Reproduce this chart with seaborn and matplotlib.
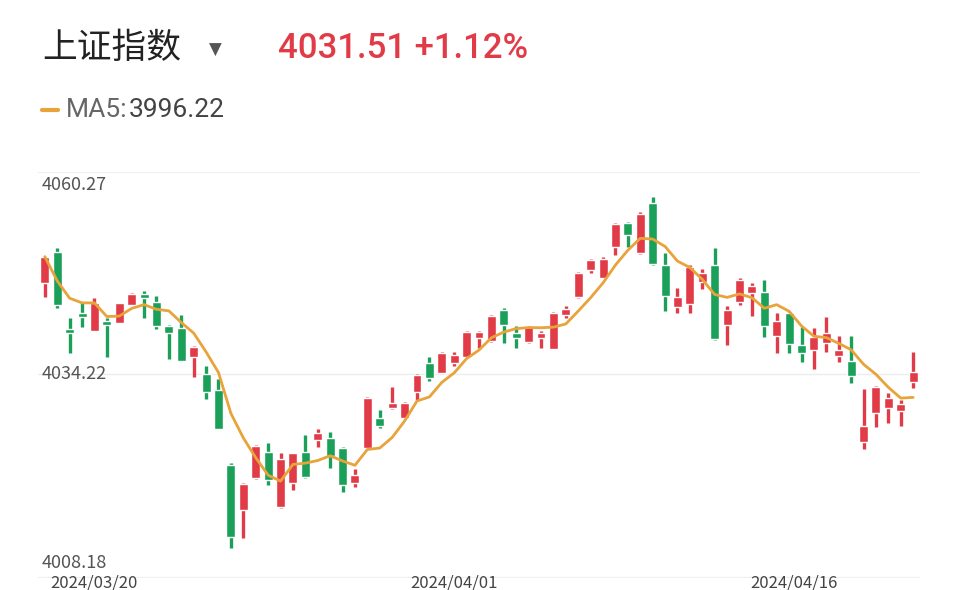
import numpy as np
import pandas as pd
import matplotlib
matplotlib.use("Agg")
import matplotlib.pyplot as plt
import matplotlib.transforms as mtransforms
import seaborn as sns

sns.set_theme(style="white")
plt.rcParams['font.family'] = ['Noto Sans CJK SC', 'DejaVu Sans']

opens = [4046.8,4051.0,4040.3,4042.6,4040.2,4041.5,4041.2,4043.7,4045.2,4044.1,
         4040.8,4040.6,4036.6,4034.2,4032.0,4021.7,4015.5,4019.9,4023.5,4015.9,
         4019.2,4023.5,4025.1,4025.4,4024.0,4019.2,4024.0,4028.2,4029.5,4028.2,
         4031.7,4035.7,4034.4,4035.7,4036.6,4039.2,4038.8,4043.0,4039.9,4038.6,
         4039.2,4037.7,4042.4,4044.8,4048.6,4047.5,4051.7,4055.0,4050.9,4057.8,
         4049.2,4043.5,4043.9,4046.9,4049.2,4041.0,4044.1,4045.4,4045.5,4039.5,
         4042.6,4038.2,4037.5,4038.5,4036.7,4036.0,4024.9,4028.9,4029.5,4029.1,4033.1]
highs = [4050.4,4051.6,4041.9,4044.1,4044.7,4041.9,4044.0,4045.4,4045.7,4045.0,
         4041.0,4042.4,4038.1,4035.3,4033.5,4021.9,4019.2,4024.5,4024.7,4023.3,
         4023.4,4025.8,4026.6,4026.2,4024.2,4021.1,4031.0,4029.3,4032.4,4030.3,
         4034.2,4036.6,4037.2,4037.3,4040.1,4040.2,4042.3,4043.3,4040.8,4040.9,
         4040.2,4042.8,4043.6,4048.3,4050.1,4050.3,4055.1,4055.2,4056.5,4058.6,
         4050.9,4046.1,4049.2,4048.7,4051.6,4043.6,4047.4,4046.8,4047.2,4042.6,
         4042.8,4040.7,4040.6,4042.1,4039.5,4039.5,4032.2,4032.6,4031.6,4030.6,4037.3]
lows = [4044.8,4043.3,4037.1,4040.7,4040.2,4036.6,4041.2,4043.7,4041.9,4040.4,
        4036.3,4036.0,4033.8,4030.8,4026.6,4010.2,4011.6,4019.8,4018.9,4015.8,
        4018.2,4019.9,4024.2,4021.3,4018.0,4018.7,4023.9,4026.8,4029.4,4028.0,
        4030.6,4033.3,4034.3,4035.3,4036.5,4037.8,4038.7,4038.5,4037.8,4038.5,
        4037.8,4037.6,4041.9,4044.7,4048.1,4047.4,4050.6,4051.7,4050.8,4049.3,
        4042.9,4042.6,4042.6,4045.9,4038.9,4038.2,4043.7,4042.2,4039.3,4037.1,
        4037.1,4035.9,4034.9,4037.3,4035.9,4033.0,4023.9,4026.9,4027.5,4027.1,4032.3]
closes = [4050.4,4043.7,4039.9,4042.1,4044.0,4041.0,4044.0,4045.2,4044.7,4040.8,
          4039.9,4036.0,4037.9,4031.7,4026.6,4011.8,4019.1,4024.3,4019.6,4022.5,
          4023.3,4020.0,4026.1,4022.9,4018.9,4020.3,4030.9,4027.1,4030.2,4030.2,
          4034.1,4033.7,4037.1,4036.8,4040.0,4040.0,4042.2,4041.0,4039.2,4040.7,
          4039.9,4042.6,4043.2,4048.1,4049.9,4050.1,4054.9,4053.4,4056.3,4049.4,
          4045.0,4044.8,4049.0,4048.1,4039.0,4043.0,4047.2,4046.4,4040.8,4041.5,
          4038.4,4037.1,4039.3,4039.9,4037.5,4034.0,4027.1,4032.4,4030.9,4030.1,4034.5]

y_ticks = [4060.27, 4034.22, 4008.18]
date_labels = ["2024/03/20", "2024/04/01", "2024/04/16"]

df = pd.DataFrame({"i": np.arange(len(opens)), "open": opens, "high": highs,
                   "low": lows, "close": closes})
df["ma5"] = df["close"].rolling(5, min_periods=1).mean()

RED = "#E23B48"
GREEN = "#1BA05A"
ORANGE = "#E8A33A"

fig = plt.figure(figsize=(9.6, 5.9), dpi=100)
ax = fig.add_axes([38/960, 1-578/590, (920-38)/960, (578-172)/590])
ax.set_xlim(-0.55, len(df) - 0.45)
ax.set_ylim(4006.11, 4062.06)

up = df["close"] >= df["open"]
colors = np.where(up, RED, GREEN)
ax.vlines(df["i"], df["low"], df["high"], colors=colors, linewidth=2.4, zorder=2)
body_bottom = np.minimum(df["open"], df["close"])
body_h = np.maximum(np.abs(df["close"] - df["open"]), 0.5)
ax.bar(df["i"], body_h, bottom=body_bottom, width=0.72, color=colors, zorder=3)
sns.lineplot(data=df, x="i", y="ma5", ax=ax, color=ORANGE, linewidth=2.0, zorder=4)

for s in ax.spines.values():
    s.set_visible(False)
ax.set_xticks([]); ax.set_yticks([])
ax.set_xlabel(""); ax.set_ylabel("")
ax.axhline(y_ticks[1], color="#ececec", linewidth=1, zorder=0)
ax.axhline(4062.0, color="#f0f0f0", linewidth=1, zorder=0)
ax.axhline(4006.2, color="#f0f0f0", linewidth=1, zorder=0)
trans = mtransforms.blended_transform_factory(fig.transFigure, ax.transData)
for v in y_ticks:
    ax.text(42/960, v, f"{v:.2f}", transform=trans, fontsize=13, color="#555555",
            va="center", ha="left", zorder=5)

for x, lab in zip([50, 410, 750], date_labels):
    fig.text(x/960, -2/590, lab, fontsize=12, color="#444444", va="bottom", ha="left")

fig.text(42/960, 1-48/590, "上证指数", fontsize=25, color="#222222", va="center")
fig.text(209/960, 1-50/590, "▼", fontsize=12, color="#555555", va="center",
         family=["DejaVu Sans"])
fig.text(278/960, 1-48/590, "4031.51 +1.12%", fontsize=25, color=RED, va="center",
         weight="medium", family=["Roboto", "DejaVu Sans"])
fig.add_artist(plt.Line2D([42/960, 58/960], [1-110/590, 1-110/590], color=ORANGE,
                          linewidth=3, transform=fig.transFigure))
t1 = fig.text(66/960, 1-110/590, "MA5:", fontsize=19, color="#666666", va="center",
              family=["Roboto", "DejaVu Sans"])
fig.canvas.draw()
bb = t1.get_window_extent()
fig.text(bb.x1/960 + 1/960, 1-110/590, "3996.22", fontsize=19, color="#444444",
         va="center", family=["Roboto", "DejaVu Sans"])

fig.savefig("out.png", dpi=100, facecolor="white")
